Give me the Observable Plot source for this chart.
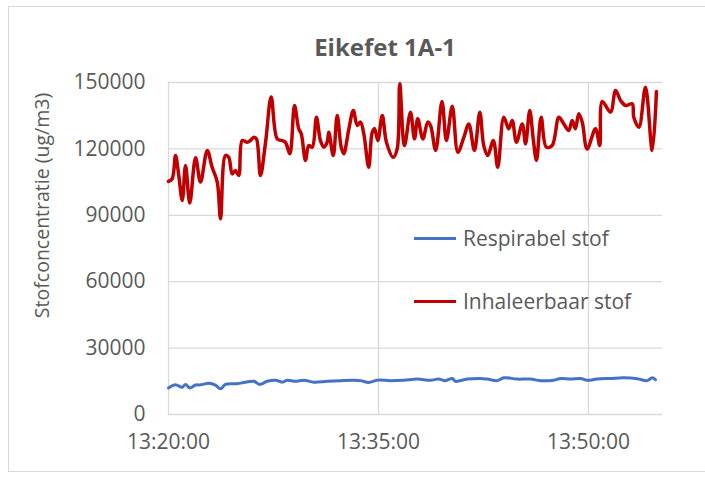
<!DOCTYPE html>
<html>
<head>
<meta charset="utf-8">
<script src="https://cdn.jsdelivr.net/npm/d3@7"></script>
<script src="https://cdn.jsdelivr.net/npm/@observablehq/plot@0.6"></script>
<style>
  html, body { margin: 0; padding: 0; background: #ffffff; }
  #wrap { position: relative; width: 705px; height: 483px; overflow: hidden; font-family: "Open Sans", sans-serif; color: #595959; }
  #frame { position: absolute; left: 8px; top: 6px; width: 720px; height: 466px; border: 1px solid #d9d9d9; box-sizing: border-box; }
  #title { position: absolute; left: 0; width: 770px; top: 30px; text-align: center; font-size: 24px; font-weight: 700; }
  .leg { position: absolute; left: 414px; font-size: 21px; display: flex; align-items: center; white-space: nowrap; }
  .leg span.sw { display: inline-block; width: 42px; height: 3px; margin-right: 7px; }
  #chart { position: absolute; left: 0; top: 0; }
</style>
</head>
<body>
<div id="wrap">
  <div id="frame"></div>
  <div id="chart"></div>
  <div id="title"></div>
  <div id="legend"></div>
</div>
<script>
// ---- data ----
const title = "Eikefet 1A-1";
const yLabel = "Stofconcentratie (ug/m3)";
const seriesNames = ["Respirabel stof", "Inhaleerbaar stof"];
const seriesColors = ["#4472C4", "#C00000"];
const startTime = "13:20:00";
const endTime = "13:55:17";
const xTickLabels = ["13:20:00", "13:35:00", "13:50:00"];
const yTicks = [0, 30000, 60000, 90000, 120000, 150000];

// seconds after 13:20:00
const inhaleerbaarSec = [0,16,30,44,59,73,91,116,137,166,187,209,223,244,258,273,287,301,316,337,351,366,377,394,416,440,466,487,501,520,540,558,569,587,601,616,634,651,665,680,687,706,723,740,751,773,792,809,823,837,858,873,883,897,916,934,963,980,991,1011,1037,1054,1068,1090,1111,1123,1145,1172,1191,1216,1240,1266,1287,1311,1334,1351,1368,1392,1411,1437,1458,1473,1491,1516,1530,1548,1563,1577,1597,1619,1644,1673,1694,1715,1730,1744,1758,1773,1794,1830,1848,1859,1894,1916,1937,1959,1987,1994,2016,2044,2073,2091];
const inhaleerbaar = [105300,106500,117000,108000,96700,112500,95600,116000,105000,119300,111700,105000,88400,117000,116200,108700,110200,108000,123800,123000,123800,125300,124500,108000,123000,143400,124500,123800,123000,117800,139600,129100,126800,114800,121500,120800,134300,123800,120800,123000,127500,117000,135100,120800,117800,129100,137300,130600,132100,126800,111700,127500,129100,123800,135100,123000,116200,120000,149400,121500,136600,124500,133600,124500,132100,130600,119300,141400,123800,139300,118500,125300,131300,119300,136600,121500,117000,123800,111700,134300,129100,132800,123000,131300,122300,137300,124500,114800,134300,120800,121500,134300,131300,128300,132800,129100,135900,132100,120000,129100,121500,141400,136600,146400,141900,139600,140400,134300,129800,147900,119300,145900,133600];

const respirabelSec = [0,30,59,73,91,116,137,173,201,223,244,294,330,366,391,423,459,487,509,544,580,623,680,737,794,823,858,894,951,1008,1066,1123,1158,1187,1216,1230,1280,1337,1366,1409,1437,1494,1551,1594,1651,1680,1723,1766,1794,1837,1894,1951,2009,2051,2073,2087];
const respirabel = [12000,13400,12300,13600,12000,13300,13400,14100,13300,11600,13600,13900,14600,15000,13600,15000,15500,14600,15500,15000,15500,14600,15000,15300,15500,15300,14500,15500,15300,15500,16000,15500,16000,15300,16300,15000,16000,16300,16000,15300,16600,16000,16000,15300,15500,16300,16000,16300,15500,16000,16300,16600,16200,15300,16600,15700];

// ---- build ----
const parseT = s => { const [h, m, sec] = s.split(":").map(Number); return new Date(Date.UTC(2020, 0, 1, h, m, sec)); };
const t0 = parseT(startTime);
const toDate = s => new Date(t0.getTime() + s * 1000);
const fmt = d3.utcFormat("%H:%M:%S");

const data = [
  ...respirabelSec.map((s, i) => ({t: toDate(s), v: respirabel[i], series: seriesNames[0]})),
  ...inhaleerbaarSec.map((s, i) => ({t: toDate(s), v: inhaleerbaar[i], series: seriesNames[1]}))
];
const xTicks = xTickLabels.map(parseT);

const font = "Open Sans, sans-serif";
const chart = Plot.plot({
  width: 705,
  height: 483,
  marginLeft: 168,
  marginRight: 43,
  marginTop: 82,
  marginBottom: 69,
  style: {fontFamily: font, fontSize: "21px", color: "#595959", background: "transparent"},
  x: {type: "utc", domain: [t0, parseT(endTime)], ticks: xTicks, tickFormat: fmt, label: null},
  y: {domain: [0, 150000], ticks: yTicks, tickFormat: d => String(d), label: null},
  color: {domain: seriesNames, range: seriesColors},
  marks: [
    Plot.gridY(yTicks, {stroke: "#d9d9d9", strokeOpacity: 1, strokeWidth: 1.3}),
    Plot.gridX(xTicks, {stroke: "#d9d9d9", strokeOpacity: 1, strokeWidth: 1.3}),
    Plot.axisY({ticks: yTicks, tickSize: 0, tickPadding: 23, tickFormat: d => String(d), fill: "#595959", fontSize: 21, label: null}),
    Plot.axisX({ticks: xTicks, tickSize: 0, tickPadding: 20, tickFormat: fmt, fill: "#595959", fontSize: 21, label: null}),
    Plot.line(data.filter(d => d.series === seriesNames[0]), {x: "t", y: "v", stroke: seriesColors[0], strokeWidth: 3, curve: "catmull-rom"}),
    Plot.line(data.filter(d => d.series === seriesNames[1]), {x: "t", y: "v", stroke: seriesColors[1], strokeWidth: 3.5, curve: "catmull-rom"}),
    Plot.text([yLabel], {text: d => d, frameAnchor: "left", textAnchor: "middle", rotate: -90, dx: -126, dy: -43, fill: "#595959", fontSize: 19.5})
  ]
});
document.getElementById("chart").appendChild(chart);
document.getElementById("title").textContent = title;

const legendTop = [224, 287];
const legend = document.getElementById("legend");
seriesNames.forEach((name, i) => {
  const row = document.createElement("div");
  row.className = "leg";
  row.style.top = legendTop[i] + "px";
  const sw = document.createElement("span");
  sw.className = "sw";
  sw.style.background = seriesColors[i];
  row.appendChild(sw);
  row.appendChild(document.createTextNode(name));
  legend.appendChild(row);
});
</script>
</body>
</html>
